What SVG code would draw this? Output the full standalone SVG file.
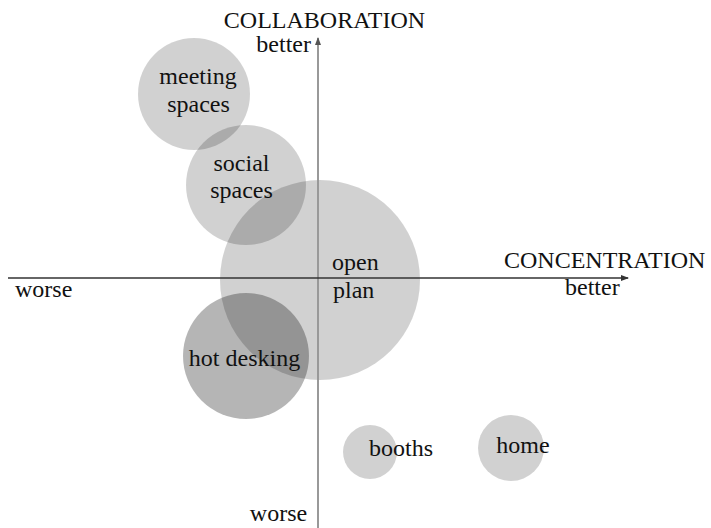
<svg xmlns="http://www.w3.org/2000/svg" width="711" height="528" viewBox="0 0 711 528">
<style>
text{font-family:"Liberation Serif","Times New Roman",serif;font-size:24px;fill:#111}
.c{fill:#000;fill-opacity:0.18}
.d{fill:#000;fill-opacity:0.29}
.m{text-anchor:middle}
</style>
<defs>
<marker id="ah" markerWidth="8" markerHeight="6" refX="7" refY="3" orient="auto" markerUnits="userSpaceOnUse">
<path d="M0,0 L8,3 L0,6 Z" fill="#333"/>
</marker>
<marker id="av" markerWidth="8" markerHeight="6" refX="7" refY="3" orient="auto" markerUnits="userSpaceOnUse">
<path d="M0,0 L8,3 L0,6 Z" fill="#555"/>
</marker>
</defs>
<g id="node-meeting"><circle class="c" cx="194" cy="94" r="56"/><text class="m" x="198" y="84">meeting</text><text class="m" x="198.5" y="112">spaces</text></g>
<g id="node-social"><circle class="c" cx="246" cy="185" r="60"/><text class="m" x="241.5" y="171">social</text><text class="m" x="241.5" y="198">spaces</text></g>
<g id="node-open"><circle class="c" cx="320" cy="280" r="100"/></g>
<g id="node-hot"><circle class="d" cx="246" cy="356" r="63"/></g>
<g id="node-booths"><circle class="c" cx="370" cy="452" r="27"/></g>
<g id="node-home"><circle class="c" cx="511" cy="448" r="33"/></g>
<g id="connectors">
<line x1="318" y1="528" x2="318" y2="38" stroke="#999" stroke-width="2" marker-end="url(#av)"/>
<line x1="8" y1="278" x2="628" y2="278" stroke="#333" stroke-width="1.5" marker-end="url(#ah)"/>
</g>
<g id="labels">
<text class="m" x="324.5" y="28">COLLABORATION</text>
<text x="311" y="52" text-anchor="end">better</text>
<text x="504" y="268">CONCENTRATION</text>
<text x="565" y="295">better</text>
<text x="15" y="297">worse</text>
<text class="m" x="278.5" y="521">worse</text>
<text x="332" y="270">open</text>
<text x="333" y="298">plan</text>
<text class="m" x="244.5" y="366">hot desking</text>
<text class="m" x="401" y="456">booths</text>
<text class="m" x="523" y="453">home</text>
</g>
</svg>
